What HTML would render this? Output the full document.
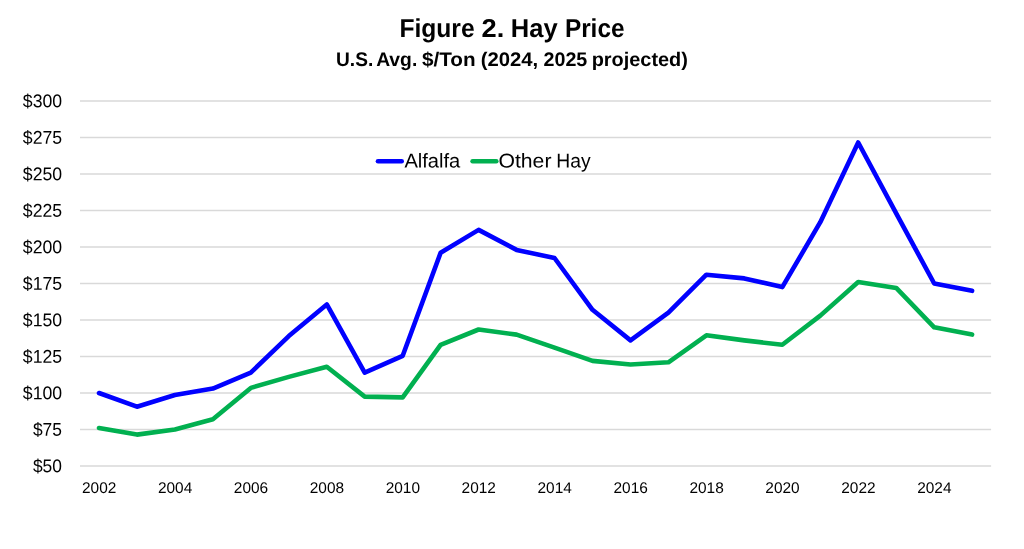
<!DOCTYPE html>
<html><head><meta charset="utf-8"><title>Figure 2. Hay Price</title>
<style>
html,body{margin:0;padding:0;background:#fff;}
body{width:1024px;height:549px;overflow:hidden;font-family:"Liberation Sans",sans-serif;}
svg{display:block;will-change:transform;opacity:0.9999;}
text{font-family:"Liberation Sans",sans-serif;fill:#000;text-rendering:geometricPrecision;}
</style></head><body>
<svg width="1024" height="549" viewBox="0 0 1024 549">
<rect x="0" y="0" width="1024" height="549" fill="#ffffff"/>
<line x1="80.0" y1="466.00" x2="991.1" y2="466.00" stroke="#d9d9d9" stroke-width="1.3"/>
<line x1="80.0" y1="429.50" x2="991.1" y2="429.50" stroke="#d9d9d9" stroke-width="1.3"/>
<line x1="80.0" y1="393.00" x2="991.1" y2="393.00" stroke="#d9d9d9" stroke-width="1.3"/>
<line x1="80.0" y1="356.50" x2="991.1" y2="356.50" stroke="#d9d9d9" stroke-width="1.3"/>
<line x1="80.0" y1="320.00" x2="991.1" y2="320.00" stroke="#d9d9d9" stroke-width="1.3"/>
<line x1="80.0" y1="283.50" x2="991.1" y2="283.50" stroke="#d9d9d9" stroke-width="1.3"/>
<line x1="80.0" y1="247.00" x2="991.1" y2="247.00" stroke="#d9d9d9" stroke-width="1.3"/>
<line x1="80.0" y1="210.50" x2="991.1" y2="210.50" stroke="#d9d9d9" stroke-width="1.3"/>
<line x1="80.0" y1="174.00" x2="991.1" y2="174.00" stroke="#d9d9d9" stroke-width="1.3"/>
<line x1="80.0" y1="137.50" x2="991.1" y2="137.50" stroke="#d9d9d9" stroke-width="1.3"/>
<line x1="80.0" y1="101.00" x2="991.1" y2="101.00" stroke="#d9d9d9" stroke-width="1.3"/>
<text x="32.93" y="472.30" transform="rotate(0.03 32.93 472.30)" font-size="18.5" textLength="29.05" lengthAdjust="spacingAndGlyphs">$50</text>
<text x="32.93" y="435.80" transform="rotate(0.03 32.93 435.80)" font-size="18.5" textLength="29.05" lengthAdjust="spacingAndGlyphs">$75</text>
<text x="22.82" y="399.30" transform="rotate(0.03 22.82 399.30)" font-size="18.5" textLength="39.27" lengthAdjust="spacingAndGlyphs">$100</text>
<text x="22.82" y="362.80" transform="rotate(0.03 22.82 362.80)" font-size="18.5" textLength="39.27" lengthAdjust="spacingAndGlyphs">$125</text>
<text x="22.82" y="326.30" transform="rotate(0.03 22.82 326.30)" font-size="18.5" textLength="39.27" lengthAdjust="spacingAndGlyphs">$150</text>
<text x="22.82" y="289.80" transform="rotate(0.03 22.82 289.80)" font-size="18.5" textLength="39.27" lengthAdjust="spacingAndGlyphs">$175</text>
<text x="22.82" y="253.30" transform="rotate(0.03 22.82 253.30)" font-size="18.5" textLength="39.27" lengthAdjust="spacingAndGlyphs">$200</text>
<text x="22.82" y="216.80" transform="rotate(0.03 22.82 216.80)" font-size="18.5" textLength="39.27" lengthAdjust="spacingAndGlyphs">$225</text>
<text x="22.82" y="180.30" transform="rotate(0.03 22.82 180.30)" font-size="18.5" textLength="39.27" lengthAdjust="spacingAndGlyphs">$250</text>
<text x="22.82" y="143.80" transform="rotate(0.03 22.82 143.80)" font-size="18.5" textLength="39.27" lengthAdjust="spacingAndGlyphs">$275</text>
<text x="22.82" y="107.30" transform="rotate(0.03 22.82 107.30)" font-size="18.5" textLength="39.27" lengthAdjust="spacingAndGlyphs">$300</text>
<text x="82.01" y="493.10" transform="rotate(0.03 82.01 493.10)" font-size="15.4" textLength="34.31" lengthAdjust="spacingAndGlyphs">2002</text>
<text x="157.94" y="493.10" transform="rotate(0.03 157.94 493.10)" font-size="15.4" textLength="34.31" lengthAdjust="spacingAndGlyphs">2004</text>
<text x="233.86" y="493.10" transform="rotate(0.03 233.86 493.10)" font-size="15.4" textLength="34.31" lengthAdjust="spacingAndGlyphs">2006</text>
<text x="309.79" y="493.10" transform="rotate(0.03 309.79 493.10)" font-size="15.4" textLength="34.31" lengthAdjust="spacingAndGlyphs">2008</text>
<text x="385.71" y="493.10" transform="rotate(0.03 385.71 493.10)" font-size="15.4" textLength="34.31" lengthAdjust="spacingAndGlyphs">2010</text>
<text x="461.64" y="493.10" transform="rotate(0.03 461.64 493.10)" font-size="15.4" textLength="34.31" lengthAdjust="spacingAndGlyphs">2012</text>
<text x="537.56" y="493.10" transform="rotate(0.03 537.56 493.10)" font-size="15.4" textLength="34.31" lengthAdjust="spacingAndGlyphs">2014</text>
<text x="613.49" y="493.10" transform="rotate(0.03 613.49 493.10)" font-size="15.4" textLength="34.31" lengthAdjust="spacingAndGlyphs">2016</text>
<text x="689.41" y="493.10" transform="rotate(0.03 689.41 493.10)" font-size="15.4" textLength="34.31" lengthAdjust="spacingAndGlyphs">2018</text>
<text x="765.34" y="493.10" transform="rotate(0.03 765.34 493.10)" font-size="15.4" textLength="34.31" lengthAdjust="spacingAndGlyphs">2020</text>
<text x="841.26" y="493.10" transform="rotate(0.03 841.26 493.10)" font-size="15.4" textLength="34.31" lengthAdjust="spacingAndGlyphs">2022</text>
<text x="917.19" y="493.10" transform="rotate(0.03 917.19 493.10)" font-size="15.4" textLength="34.31" lengthAdjust="spacingAndGlyphs">2024</text>
<polyline points="99.0,428.0 136.9,434.6 174.9,429.5 212.9,419.3 250.8,387.9 288.8,376.9 326.8,366.7 364.7,396.6 402.7,397.4 440.6,344.8 478.6,329.5 516.6,334.6 554.5,347.7 592.5,360.9 630.5,364.5 668.4,362.3 706.4,335.3 744.3,340.4 782.3,344.8 820.3,315.6 858.2,282.0 896.2,287.9 934.2,327.3 972.1,334.6" fill="none" stroke="#00b050" stroke-width="4.6" stroke-linecap="round" stroke-linejoin="round"/>
<polyline points="99.0,393.0 136.9,406.7 174.9,395.0 212.9,388.6 250.8,372.6 288.8,336.1 326.8,304.4 364.7,372.6 402.7,355.8 440.6,252.8 478.6,229.9 516.6,249.9 554.5,258.0 592.5,309.8 630.5,340.4 668.4,312.7 706.4,274.7 744.3,278.4 782.3,287.1 820.3,222.2 858.2,142.5 896.2,213.4 934.2,283.5 972.1,290.8" fill="none" stroke="#0000ff" stroke-width="4.6" stroke-linecap="round" stroke-linejoin="round"/>
<line x1="378.0" y1="161.2" x2="401.7" y2="161.2" stroke="#0000ff" stroke-width="4.6" stroke-linecap="round"/>
<line x1="472.6" y1="161.2" x2="496.3" y2="161.2" stroke="#00b050" stroke-width="4.6" stroke-linecap="round"/>
<text x="404.40" y="167.40" transform="rotate(0.03 404.40 167.40)" font-size="19.9" textLength="55.89" lengthAdjust="spacingAndGlyphs">Alfalfa</text>
<text x="498.44" y="167.40" transform="rotate(0.03 498.44 167.40)" font-size="19.9" textLength="53.01" lengthAdjust="spacingAndGlyphs">Other</text>
<text x="556.36" y="167.40" transform="rotate(0.03 556.36 167.40)" font-size="19.9" textLength="34.31" lengthAdjust="spacingAndGlyphs">Hay</text>
<text x="399.38" y="36.90" transform="rotate(0.03 399.38 36.90)" font-size="25.9" font-weight="bold" textLength="75.26" lengthAdjust="spacingAndGlyphs">Figure</text>
<text x="481.48" y="36.90" transform="rotate(0.03 481.48 36.90)" font-size="25.9" font-weight="bold" textLength="22.74" lengthAdjust="spacingAndGlyphs">2.</text>
<text x="510.81" y="36.90" transform="rotate(0.03 510.81 36.90)" font-size="25.9" font-weight="bold" textLength="46.80" lengthAdjust="spacingAndGlyphs">Hay</text>
<text x="564.89" y="36.90" transform="rotate(0.03 564.89 36.90)" font-size="25.9" font-weight="bold" textLength="59.64" lengthAdjust="spacingAndGlyphs">Price</text>
<text x="336.05" y="65.90" transform="rotate(0.03 336.05 65.90)" font-size="19.6" font-weight="bold" textLength="37.19" lengthAdjust="spacingAndGlyphs">U.S.</text>
<text x="376.17" y="65.90" transform="rotate(0.03 376.17 65.90)" font-size="19.6" font-weight="bold" textLength="41.08" lengthAdjust="spacingAndGlyphs">Avg.</text>
<text x="421.99" y="65.90" transform="rotate(0.03 421.99 65.90)" font-size="19.6" font-weight="bold" textLength="53.60" lengthAdjust="spacingAndGlyphs">$/Ton</text>
<text x="480.69" y="65.90" transform="rotate(0.03 480.69 65.90)" font-size="19.6" font-weight="bold" textLength="57.54" lengthAdjust="spacingAndGlyphs">(2024,</text>
<text x="543.51" y="65.90" transform="rotate(0.03 543.51 65.90)" font-size="19.6" font-weight="bold" textLength="43.78" lengthAdjust="spacingAndGlyphs">2025</text>
<text x="591.71" y="65.90" transform="rotate(0.03 591.71 65.90)" font-size="19.6" font-weight="bold" textLength="96.17" lengthAdjust="spacingAndGlyphs">projected)</text>
</svg>
</body></html>
